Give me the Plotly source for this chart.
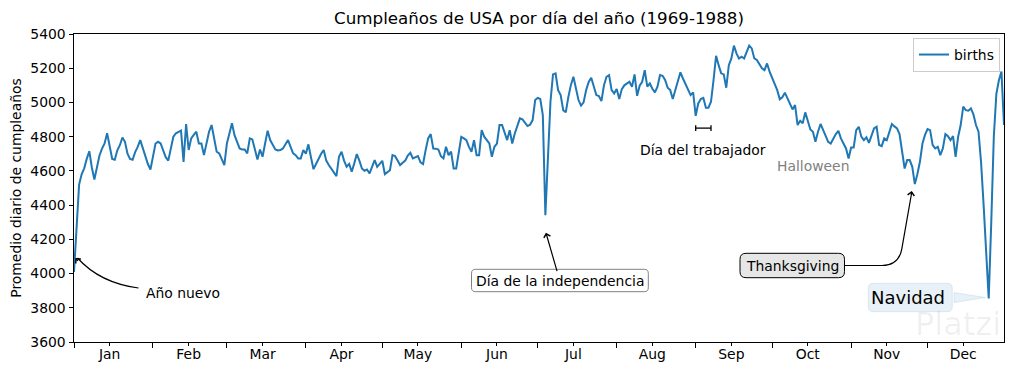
import pandas as pd
import plotly.graph_objects as go

# ---------------- data ----------------
dates = pd.date_range("2012-01-01", "2012-12-31", freq="D")

jan = [4009, 4260, 4520, 4580, 4615, 4670, 4715, 4620, 4550, 4620, 4690, 4730, 4760, 4820, 4740, 4670,
       4665, 4720, 4750, 4795, 4770, 4700, 4670, 4665, 4710, 4740, 4780, 4730, 4680, 4640, 4608]
feb = [4690, 4760, 4770, 4760, 4720, 4680, 4660, 4740, 4800, 4820, 4830, 4835, 4653, 4874, 4722, 4790,
       4810, 4829, 4760, 4760, 4692, 4760, 4829, 4868, 4800, 4712, 4702, 4670, 4634]
mar = [4760, 4820, 4878, 4809, 4770, 4731, 4725, 4725, 4702, 4790, 4784, 4720, 4667, 4725, 4683, 4760,
       4835, 4780, 4750, 4725, 4720, 4722, 4731, 4760, 4780, 4740, 4702, 4692, 4673, 4673, 4722]
apr = [4700, 4755, 4680, 4610, 4640, 4673, 4700, 4722, 4660, 4634, 4610, 4590, 4569, 4683, 4712, 4660,
       4624, 4640, 4595, 4644, 4698, 4660, 4614, 4601, 4608, 4585, 4630, 4663, 4624, 4640]
may = [4659, 4581, 4595, 4604, 4692, 4686, 4660, 4634, 4647, 4660, 4690, 4706, 4673, 4682, 4686, 4650,
       4640, 4721, 4790, 4815, 4731, 4730, 4725, 4686, 4673, 4741, 4692, 4712, 4614, 4614, 4700]
jun = [4799, 4790, 4780, 4740, 4712, 4780, 4692, 4692, 4838, 4800, 4776, 4760, 4682, 4741, 4760, 4868,
       4868, 4819, 4780, 4838, 4760, 4819, 4860, 4907, 4901, 4880, 4862, 4870, 4897, 5014]
jul = [5027, 5020, 4926, 4341, 4692, 5004, 5164, 5170, 5072, 5043, 4955, 4942, 5030, 5101, 5150, 5082,
       5014, 4981, 5000, 5072, 5120, 5144, 5092, 5043, 5037, 5008, 5100, 5150, 5160, 5072, 5053]
aug = [5078, 5020, 5078, 5100, 5111, 5121, 5092, 5164, 5039, 5098, 5121, 5189, 5092, 5111, 5080, 5059,
       5092, 5160, 5156, 5131, 5086, 5072, 5020, 5072, 5130, 5176, 5140, 5105, 5072, 5043, 5059]
sep = [4922, 4994, 5020, 5027, 4969, 4969, 5004, 5131, 5273, 5218, 5170, 5164, 5086, 5218, 5257, 5332,
       5287, 5257, 5267, 5257, 5296, 5332, 5316, 5257, 5248, 5220, 5199, 5189, 5228, 5180]
oct_ = [5140, 5111, 5072, 5018, 5030, 5057, 5024, 4990, 4959, 4985, 4868, 4893, 4878, 4942, 4890, 4842,
        4829, 4770, 4829, 4874, 4840, 4809, 4770, 4760, 4790, 4815, 4834, 4790, 4760, 4731, 4673]
nov = [4737, 4737, 4838, 4858, 4800, 4780, 4796, 4764, 4810, 4848, 4858, 4751, 4745, 4790, 4780, 4829,
       4874, 4860, 4848, 4815, 4720, 4614, 4663, 4663, 4624, 4523, 4580, 4653, 4760, 4810]
dec = [4844, 4838, 4751, 4731, 4741, 4692, 4731, 4815, 4803, 4780, 4803, 4682, 4800, 4868, 4975, 4955,
       4952, 4965, 4930, 4868, 4829, 4650, 4400, 4150, 3854, 4300, 4800, 5050, 5130, 5180, 4868]

births = jan + feb + mar + apr + may + jun + jul + aug + sep + oct_ + nov + dec

month_labels = ["Jan", "Feb", "Mar", "Apr", "May", "Jun", "Jul", "Aug", "Sep", "Oct", "Nov", "Dec"]
month_starts = pd.date_range("2012-01-01", "2012-12-01", freq="MS")
month_mids = month_starts + pd.Timedelta(days=14)
y_ticks = list(range(3600, 5401, 200))

# ---------------- layout helpers ----------------
# The page body adds an 8px margin, so the figure is 8px smaller and
# screen coordinates (sx, sy) map to figure coordinates (sx-8, sy-8).
OFF = 8
W, H = 1014 - OFF, 372 - OFF
L, R, T, B = 74 - OFF, 10, 34 - OFF, 30
PW, PH = W - L - R, H - T - B
FONT = "DejaVu Sans"
FS = 13.9


def px(sx):
    return (sx - OFF - L) / PW


def py(sy):
    return 1 - (sy - OFF - T) / PH


def P(x, y):
    return f"{px(x):.5f},{py(y):.5f}"


def rrect(x0, y0, x1, y1, r):
    return (f"M{P(x0 + r, y0)} L{P(x1 - r, y0)} Q{P(x1, y0)} {P(x1, y0 + r)} "
            f"L{P(x1, y1 - r)} Q{P(x1, y1)} {P(x1 - r, y1)} L{P(x0 + r, y1)} "
            f"Q{P(x0, y1)} {P(x0, y1 - r)} L{P(x0, y0 + r)} Q{P(x0, y0)} {P(x0 + r, y0)} Z")


def label(sx, sy, text, size=FS, color="black", xanchor="center"):
    return dict(xref="paper", yref="paper", x=px(sx), y=py(sy), xanchor=xanchor,
                yanchor="middle", text=text, showarrow=False,
                font=dict(family=FONT, size=size, color=color))


fig = go.Figure()
fig.add_trace(go.Scatter(x=dates, y=births, mode="lines", name="births",
                         line=dict(color="#1f77b4", width=2)))

shapes = []
annotations = []

# Año nuevo
annotations.append(label(143.5, 293, "Año nuevo", xanchor="left"))
shapes.append(dict(type="path", xref="paper", yref="paper",
                   path=f"M{P(138.5, 288)} Q{P(100, 283)} {P(77.5, 258)}",
                   line=dict(color="black", width=1.2)))
annotations.append(dict(x="2012-01-01", y=4100, xref="x", yref="y", text="", showarrow=True,
                        ax=5.3, ay=6.0, arrowhead=4, arrowsize=1.1, arrowwidth=1.2,
                        arrowcolor="black", standoff=2))

# Día de la independencia
shapes.append(dict(type="path", xref="paper", yref="paper",
                   path=rrect(471.5, 269.3, 648.3, 291.7, 4),
                   line=dict(color="gray", width=1), fillcolor="rgba(0,0,0,0)"))
annotations.append(dict(x="2012-07-04", y=4250, xref="x", yref="y",
                        text="Día de la independencia", showarrow=True,
                        ax=14.4, ay=49.9, arrowhead=4, arrowsize=1.1, arrowwidth=1.2,
                        arrowcolor="black", standoff=2,
                        font=dict(family=FONT, size=FS, color="black")))

# Día del trabajador
shapes.append(dict(type="line", xref="x", yref="y", x0="2012-09-01", x1="2012-09-07",
                   y0=4850, y1=4850, line=dict(color="black", width=1.3)))
for d in ["2012-09-01", "2012-09-07"]:
    shapes.append(dict(type="line", xref="x", yref="y", x0=d, x1=d, y0=4833, y1=4867,
                       line=dict(color="black", width=1.3)))
annotations.append(dict(x="2012-09-04", y=4850, xref="x", yref="y", yshift=-22,
                        xanchor="center", yanchor="middle",
                        text="Día del trabajador", showarrow=False,
                        font=dict(family=FONT, size=FS, color="black")))

# Halloween
annotations.append(label(812.5, 165.5, "Halloween", color="#808080"))

# Thanksgiving
shapes.append(dict(type="path", xref="paper", yref="paper",
                   path=rrect(740, 253.3, 844.5, 277.7, 6),
                   line=dict(color="black", width=1), fillcolor="#e6e6e6"))
annotations.append(label(792.3, 265.5, "Thanksgiving"))
shapes.append(dict(type="path", xref="paper", yref="paper",
                   path=f"M{P(844.5, 265.5)} L{P(882, 265.5)} Q{P(898.8, 265.5)} {P(901.8, 248.8)} "
                        f"L{P(911.8, 192)}",
                   line=dict(color="black", width=1.2)))
annotations.append(dict(x="2012-11-25", y=4500, xref="x", yref="y", text="", showarrow=True,
                        ax=-1.4, ay=7.9, arrowhead=4, arrowsize=1.1, arrowwidth=1.2,
                        arrowcolor="black", standoff=3))

# Navidad
shapes.append(dict(type="path", xref="paper", yref="paper",
                   path=rrect(868.3, 283.3, 952.3, 311.7, 5),
                   line=dict(color="rgba(31,119,180,0.12)", width=1),
                   fillcolor="rgba(31,119,180,0.1)"))
shapes.append(dict(type="path", xref="paper", yref="paper",
                   path=f"M{P(954, 292.5)} L{P(985.5, 297.5)} L{P(954, 302.5)} Z",
                   line=dict(color="rgba(31,119,180,0.12)", width=1),
                   fillcolor="rgba(31,119,180,0.1)"))
annotations.append(label(947, 297.5, "Navidad", size=18, xanchor="right"))

# faint watermark
annotations.append(label(1003, 324, "Platzi", size=32, color="rgba(0,0,0,0.06)", xanchor="right"))

fig.update_layout(
    width=W, height=H,
    margin=dict(l=L, r=R, t=T, b=B, autoexpand=False),
    paper_bgcolor="white", plot_bgcolor="white",
    font=dict(family=FONT, size=FS, color="black"),
    title=dict(text="Cumpleaños de USA por día del año (1969-1988)", x=0.5, xref="paper",
               xanchor="center", y=1 - (18 - OFF) / H, yref="container", yanchor="middle",
               font=dict(family=FONT, size=16.7, color="black")),
    showlegend=True,
    legend=dict(x=px(1000), y=py(38), xanchor="right", yanchor="top",
                bgcolor="rgba(255,255,255,0.8)", bordercolor="#cccccc", borderwidth=1,
                font=dict(family=FONT, size=FS, color="black")),
    shapes=shapes,
    annotations=annotations,
)

fig.update_xaxes(
    type="date", range=["2012-01-01", "2012-12-31"], automargin=False,
    showgrid=False, zeroline=False,
    showline=True, linecolor="black", linewidth=1, mirror=True,
    tickvals=list(month_mids), ticktext=month_labels,
    ticks="outside", ticklen=2.6, tickwidth=1, tickcolor="black",
    ticklabelstandoff=-3,
    tickfont=dict(family=FONT, size=FS, color="black"),
    minor=dict(tickvals=list(month_starts), ticks="outside", ticklen=4.5, tickwidth=1,
               tickcolor="black", showgrid=False),
)
fig.update_yaxes(
    range=[3600, 5400], tickvals=y_ticks, automargin=False,
    showgrid=False, zeroline=False,
    showline=True, linecolor="black", linewidth=1, mirror=True,
    ticks="outside", ticklen=4.5, tickwidth=1, tickcolor="black",
    tickfont=dict(family=FONT, size=FS, color="black"),
    title=dict(text="Promedio diario de cumpleaños", font=dict(family=FONT, size=FS, color="black"),
               standoff=6),
)

fig.write_html("out.html")
